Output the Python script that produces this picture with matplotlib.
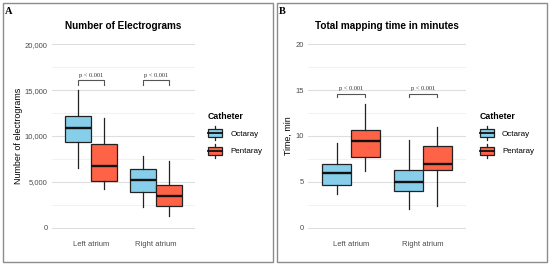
import numpy as np
import matplotlib
matplotlib.use("Agg")
import matplotlib.pyplot as plt
from matplotlib.patches import Rectangle
from matplotlib.lines import Line2D
from matplotlib.legend_handler import HandlerBase

# data: whisker low, q1, median, q3, whisker high
sites = ["Left atrium", "Right atrium"]
catheters = ["Octaray", "Pentaray"]
colors = ["#87CEEB", "#FF6347"]

egm_octaray = [[6500, 9400, 10900, 12200, 15000], [2300, 3850, 5200, 6400, 7800]]
egm_pentaray = [[4200, 5130, 6750, 9090, 12000], [1250, 2350, 3500, 4650, 7300]]

time_octaray = [[3.7, 4.7, 6.0, 6.9, 9.2], [2.0, 4.0, 5.0, 6.3, 9.6]]
time_pentaray = [[6.2, 7.7, 9.5, 10.6, 13.5], [2.4, 6.3, 6.9, 8.9, 11.0]]

pvals = ["p < 0.001", "p < 0.001"]

W, H = 550, 266
fig = plt.figure(figsize=(5.5, 2.66), dpi=100)
sans = "Liberation Sans"
serif = "Liberation Serif"


class BoxKey(HandlerBase):
    # little boxplot glyph like the ggplot legend key
    def create_artists(self, legend, orig, xd, yd, width, height, fontsize, trans):
        fc = orig.get_facecolor()
        x0, y0 = -xd, -yd
        cx = x0 + width / 2
        b0, b1 = y0 + height * 0.08, y0 + height * 0.92
        r = Rectangle((x0, b0), width, b1 - b0, facecolor=fc,
                      edgecolor="#222222", lw=0.9, transform=trans)
        m = Line2D([x0, x0 + width], [y0 + height / 2] * 2, color="#111111", lw=1.3, transform=trans)
        w1 = Line2D([cx, cx], [y0 - height * 0.2, b0], color="#222222", lw=0.9, transform=trans)
        w2 = Line2D([cx, cx], [b1, y0 + height * 1.2], color="#222222", lw=0.9, transform=trans)
        return [w1, w2, r, m]


def panel(rect, octa, penta, ymax, step, fmt, ylabel, title, bracket):
    ax = fig.add_axes(rect)
    ax.set_xlim(0.4, 2.6)
    ax.set_ylim(-ymax * 0.05, ymax * 1.05)
    ax.set_yticks(np.arange(0, ymax + 1e-9, step))
    ax.set_yticks(np.arange(step / 2, ymax, step), minor=True)
    ax.grid(True, axis="y", which="major", color="#DEDEDE", lw=0.8)
    ax.grid(True, axis="y", which="minor", color="#EBEBEB", lw=0.5)
    ax.set_axisbelow(True)
    for s in ax.spines.values():
        s.set_visible(False)
    ax.tick_params(which="both", length=0, labelsize=5.5, labelcolor="#4D4D4D", pad=3)
    ax.set_yticklabels([fmt(v) for v in ax.get_yticks()], fontfamily=sans)
    pos = np.arange(1, len(sites) + 1)
    ax.set_xticks(pos)
    ax.set_xticklabels(sites, fontfamily=sans)
    ax.tick_params(axis="x", pad=3)
    for vals, off, c in [(octa, -0.2, colors[0]), (penta, 0.2, colors[1])]:
        stats = [dict(whislo=v[0], q1=v[1], med=v[2], q3=v[3], whishi=v[4], fliers=[]) for v in vals]
        ax.bxp(stats, positions=pos + off, widths=0.4, showcaps=False, patch_artist=True,
               boxprops=dict(facecolor=c, edgecolor="#222222", lw=0.9),
               whiskerprops=dict(color="#222222", lw=0.9),
               medianprops=dict(color="#111111", lw=1.7), manage_ticks=False)
    lo, hi, ty = bracket
    for p, txt in zip(pos, pvals):
        ax.plot([p - 0.2, p - 0.2, p + 0.2, p + 0.2], [lo, hi, hi, lo], color="#555555", lw=0.8)
        ax.text(p, ty, txt, ha="center", va="center", fontsize=4.6, fontfamily=serif, color="#333333")
    ax.set_ylabel(ylabel, fontsize=6.4, fontfamily=sans, labelpad=1.5)
    ax.set_title(title, fontsize=7.2, fontweight="bold", fontfamily=sans, pad=4)
    handles = [Rectangle((0, 0), 1, 1, facecolor=c) for c in colors]
    ax.legend(handles, catheters, handler_map={Rectangle: BoxKey()}, loc="upper left",
              bbox_to_anchor=(1.06, 0.64), frameon=False, prop=dict(family=sans, size=5.8),
              title="Catheter", title_fontproperties=dict(family=sans, size=6.3, weight="bold"),
              handlelength=1.8, handleheight=1.5, labelspacing=0.95, handletextpad=1.0,
              borderpad=0, alignment="left")
    return ax


panel([52 / W, 29 / H, 143 / W, 202 / H], egm_octaray, egm_pentaray, 20000, 5000,
      lambda v: f"{int(v):,}", "Number of electrograms", "Number of Electrograms",
      (15550, 16050, 16600))
panel([308 / W, 29 / H, 158 / W, 202 / H], time_octaray, time_pentaray, 20, 5,
      lambda v: f"{int(v)}", "Time, min", "Total mapping time in minutes",
      (14.2, 14.55, 15.2))

for x0, lab in [(3, "A"), (277, "B")]:
    fig.patches.append(Rectangle((x0 / W, 4 / H), 270 / W, 259 / H, transform=fig.transFigure,
                                 fill=False, edgecolor="#8C8C8C", lw=1.0))
    fig.text((x0 + 2) / W, (H - 12) / H, lab, fontsize=7.5, fontweight="bold", fontfamily=serif,
             va="center", ha="left")

fig.savefig("out.png", dpi=100, facecolor="white")
